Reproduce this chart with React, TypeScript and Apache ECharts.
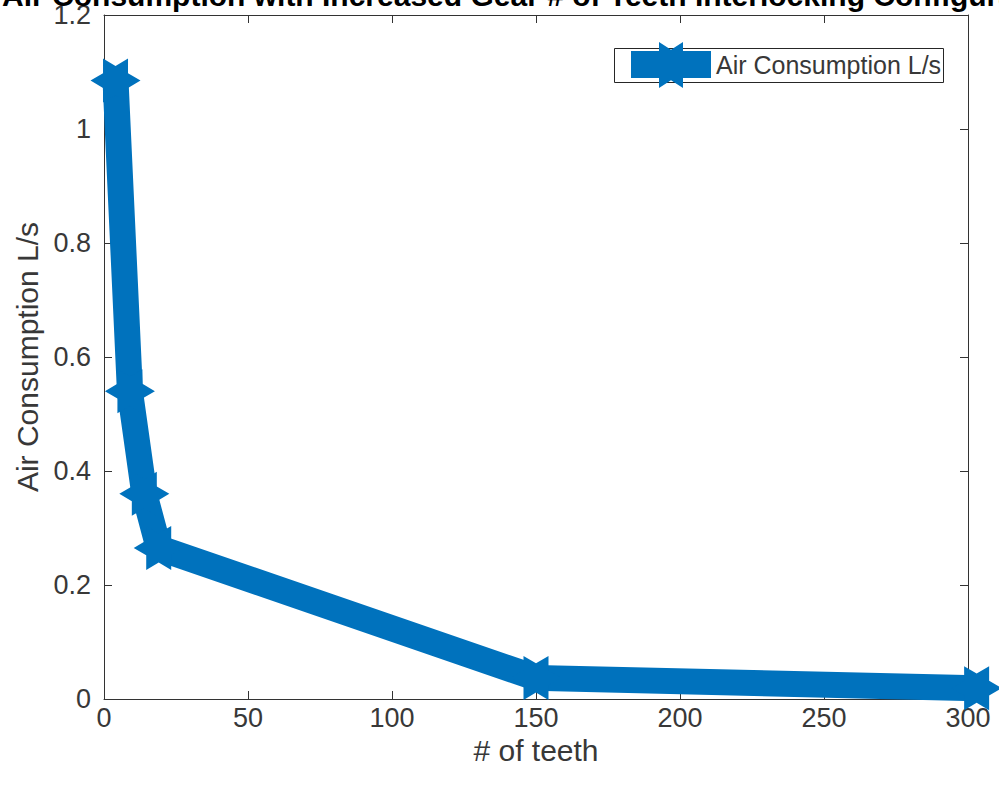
import React, { useEffect, useRef } from "react";
import * as echarts from "echarts";

const teeth = [4, 9, 14, 19, 150, 303];
const airConsumption = [1.085, 0.54, 0.36, 0.265, 0.037, 0.019];
const xTicks = [0, 50, 100, 150, 200, 250, 300];
const yTicks = [0, 0.2, 0.4, 0.6, 0.8, 1, 1.2];
const seriesName = "Air Consumption L/s";
const xAxisName = "# of teeth";
const yAxisName = "Air Consumption L/s";
const titleText = "Air Consumption with Increased Gear # of Teeth Interlocking Configuration";

function starPath(cx: number, cy: number, rx: number, ry: number): string {
  const pts: string[] = [];
  for (let i = 0; i < 12; i++) {
    const a = (i * 30 * Math.PI) / 180;
    const r = i % 2 === 0 ? 1 : 0.577;
    const x = cx + rx * r * Math.cos(a);
    const y = cy + (ry / 0.866) * r * Math.sin(a);
    pts.push((i === 0 ? "M" : "L") + x.toFixed(2) + " " + y.toFixed(2));
  }
  return pts.join(" ") + " Z";
}

const markerPath = "path://" + starPath(100, 86.6, 100, 86.6);
const legendPath =
  "path://M0 9 L80 9 L80 36 L0 36 Z " + starPath(40, 23, 24, 23);

const AXIS = "#333333";
const TEXT = "#383838";
const FONT = "Liberation Sans, Arial, Helvetica, sans-serif";

export default function App() {
  const ref = useRef<HTMLDivElement>(null);
  useEffect(() => {
    if (!ref.current) return;
    const chart = echarts.init(ref.current, null, { renderer: "svg" });
    const xMin = xTicks[0];
    const xMax = xTicks[xTicks.length - 1];
    const yMin = yTicks[0];
    const yMax = yTicks[yTicks.length - 1];
    const commonLine = { show: true, onZero: false, lineStyle: { color: AXIS, width: 1 } };
    const commonTick = { show: true, inside: true, length: 8, lineStyle: { color: AXIS, width: 1 } };
    chart.setOption({
      animation: false,
      backgroundColor: "#ffffff",
      textStyle: { fontFamily: FONT },
      grid: { left: 104, right: 31, top: 15, bottom: 92, containLabel: false },
      graphic: [
        {
          type: "text",
          x: 536,
          y: -5,
          z: 100,
          style: {
            text: titleText,
            font: "bold 30px " + FONT,
            fill: "#000000",
            textAlign: "center",
            textVerticalAlign: "middle",
          },
        },
        {
          type: "rect",
          shape: { x: 614.5, y: 48.5, width: 329, height: 34 },
          z: 50,
          style: { fill: "#ffffff", stroke: "#262626", lineWidth: 1 },
        },
      ],
      legend: {
        data: [seriesName],
        left: 631,
        top: 42,
        padding: 0,
        z: 60,
        itemWidth: 80,
        itemHeight: 46,
        icon: legendPath,
        textStyle: { fontSize: 25, color: TEXT, fontFamily: FONT },
      },
      xAxis: [
        {
          type: "value",
          min: xMin,
          max: xMax,
          interval: 50,
          name: xAxisName,
          nameLocation: "middle",
          nameGap: 28,
          nameTextStyle: { fontSize: 30, color: TEXT, fontFamily: FONT },
          axisLine: commonLine,
          axisTick: commonTick,
          splitLine: { show: false },
          axisLabel: { fontSize: 27, color: TEXT, margin: 5, fontFamily: FONT },
        },
        {
          type: "value",
          position: "top",
          min: xMin,
          max: xMax,
          interval: 50,
          axisLine: commonLine,
          axisTick: commonTick,
          splitLine: { show: false },
          axisLabel: { show: false },
        },
      ],
      yAxis: [
        {
          type: "value",
          min: yMin,
          max: yMax,
          interval: 0.2,
          name: yAxisName,
          nameLocation: "middle",
          nameGap: 57,
          nameTextStyle: { fontSize: 30, color: TEXT, fontFamily: FONT },
          axisLine: commonLine,
          axisTick: commonTick,
          splitLine: { show: false },
          axisLabel: { fontSize: 27, color: TEXT, margin: 13, fontFamily: FONT },
        },
        {
          type: "value",
          position: "right",
          min: yMin,
          max: yMax,
          interval: 0.2,
          axisLine: commonLine,
          axisTick: commonTick,
          splitLine: { show: false },
          axisLabel: { show: false },
        },
      ],
      series: [
        {
          name: seriesName,
          type: "line",
          data: teeth.map((t, i) => [t, airConsumption[i]]),
          clip: false,
          symbol: markerPath,
          symbolSize: [50, 44],
          showAllSymbol: true,
          color: "#0072BD",
          itemStyle: { color: "#0072BD" },
          lineStyle: { color: "#0072BD", width: 26, join: "miter", cap: "butt" },
          z: 10,
        },
      ],
    });
    return () => chart.dispose();
  }, []);
  return <div ref={ref} style={{ width: 999, height: 791, position: "absolute", left: 0, top: 0 }} />;
}
